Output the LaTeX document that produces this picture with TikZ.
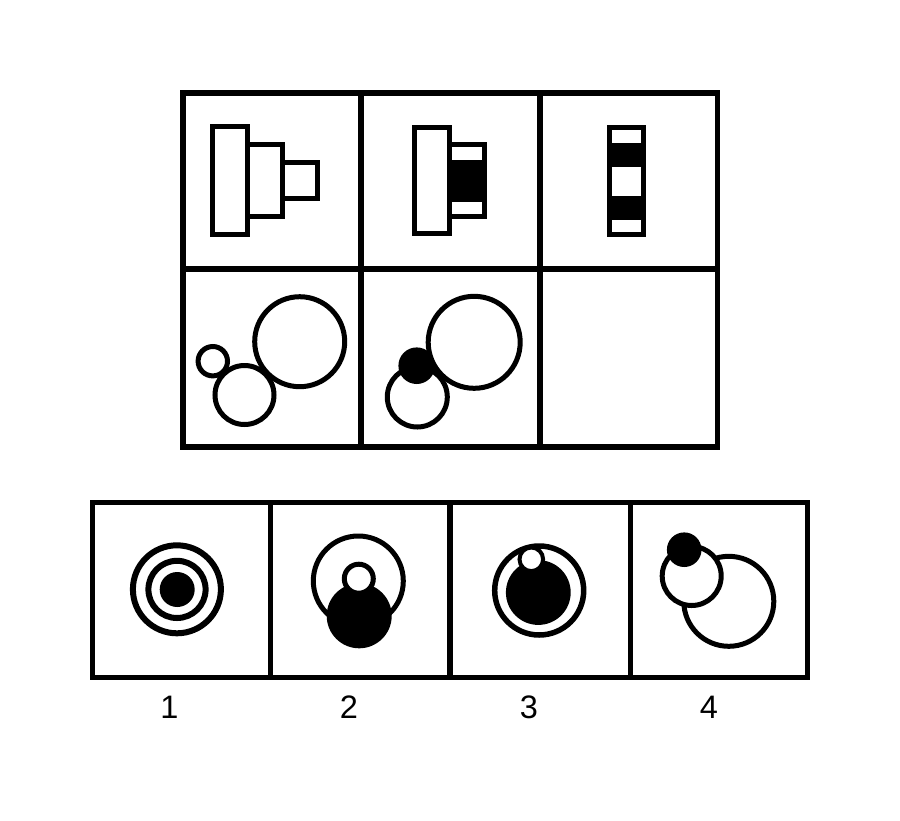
\documentclass[tikz,border=0pt]{standalone}
\usepackage{fontspec}
\setmainfont{Liberation Sans}
\begin{document}
\begin{tikzpicture}[x=1pt,y=-1pt,
  frame/.style={line width=5.5pt,line join=miter},
  shp/.style={line width=5pt},
  lbl/.style={font=\fontsize{32.5}{32.5}\selectfont,inner sep=0pt,anchor=center}]
\useasboundingbox (0,0) rectangle (900,820);
\fill[white] (0,0) rectangle (900,820);
% top grid
\draw[frame] (183,93) rectangle (717.5,447);
\draw[frame] (361,93) -- (361,447);
\draw[frame] (540,93) -- (540,447);
\draw[frame] (183,269) -- (717.5,269);
% cell 1
\draw[shp] (212,126) rectangle (247,234.5);
\draw[shp] (247,144.8) rectangle (282.3,216);
\draw[shp] (282.3,162) rectangle (317.8,198);
% cell 2
\draw[shp] (414.2,127.8) rectangle (449.7,233.3);
\fill (449.7,160) rectangle (484.5,202);
\draw[shp] (449.7,144.8) rectangle (484.5,216.7);
% cell 3
\fill (609.7,143.3) rectangle (643.7,166.7);
\fill (609.7,196) rectangle (643.7,220);
\draw[shp] (609.7,127.8) rectangle (643.7,234.5);
% cell 4
\draw[shp] (212.8,361.2) circle[radius=14.7];
\draw[shp] (244.5,395) circle[radius=29.5];
\draw[shp] (299.7,341.7) circle[radius=45];
% cell 5
\draw[shp] (474.2,342.3) circle[radius=46];
\draw[shp] (417.3,397) circle[radius=30];
\fill (416.7,365.7) circle[radius=18.3];
% bottom grid
\draw[frame] (92.5,502.5) rectangle (807.5,677.5);
\draw[frame] (270.5,502.5) -- (270.5,677.5);
\draw[frame] (450,502.5) -- (450,677.5);
\draw[frame] (630.5,502.5) -- (630.5,677.5);
% option 1
\draw[shp,line width=6pt] (176.9,589.3) circle[radius=44];
\draw[shp,line width=6pt] (177,589.4) circle[radius=28.6];
\fill (177.2,589.5) circle[radius=17.5];
% option 2
\draw[shp] (358.3,581) circle[radius=45];
\fill (359.2,615.8) circle[radius=32.5];
\draw[shp,fill=white] (358.8,578.7) circle[radius=14.5];
% option 3
\draw[shp,line width=5.5pt] (539.2,590.5) circle[radius=44.5];
\fill (538.3,592.5) circle[radius=32.4];
\draw[line width=4pt,fill=white] (531.3,559.3) circle[radius=11.8];
% option 4
\draw[shp] (728.8,601.3) circle[radius=45];
\draw[shp,fill=white] (691.7,576) circle[radius=29.5];
\fill (684.2,549.7) circle[radius=17.3];
% labels
\node[lbl] (l1) at (169.5,707) {1};
\node[lbl] (l2) at (349,707) {2};
\node[lbl] (l3) at (529,707) {3};
\node[lbl] (l4) at (709,707) {4};
\end{tikzpicture}
\end{document}
